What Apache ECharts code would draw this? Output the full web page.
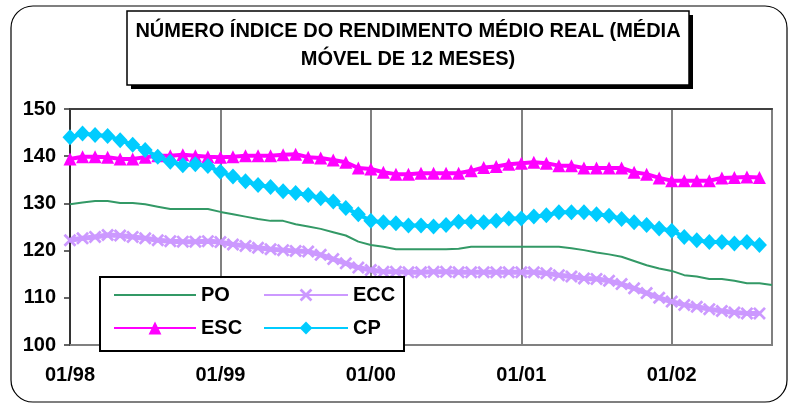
<!DOCTYPE html>
<html><head><meta charset="utf-8">
<script src="https://cdn.jsdelivr.net/npm/echarts@6/dist/echarts.min.js"></script>
<style>html,body{margin:0;padding:0;background:#fff}#c{width:793px;height:405px}</style>
</head><body><div id="c"></div>
<script>
const categories = ['01/98','02/98','03/98','04/98','05/98','06/98','07/98','08/98','09/98','10/98','11/98','12/98',
'01/99','02/99','03/99','04/99','05/99','06/99','07/99','08/99','09/99','10/99','11/99','12/99',
'01/00','02/00','03/00','04/00','05/00','06/00','07/00','08/00','09/00','10/00','11/00','12/00',
'01/01','02/01','03/01','04/01','05/01','06/01','07/01','08/01','09/01','10/01','11/01','12/01',
'01/02','02/02','03/02','04/02','05/02','06/02','07/02','08/02','09/02'];
const PO  = [129.8,130.2,130.5,130.5,130.1,130.1,129.8,129.3,128.8,128.8,128.8,128.8,128.2,127.7,127.2,126.7,126.3,126.3,125.6,
125.1,124.6,123.9,123.2,121.9,121.2,120.8,120.3,120.3,120.3,120.3,120.3,120.4,120.8,120.8,120.8,120.8,120.8,
120.8,120.8,120.8,120.5,120.1,119.6,119.2,118.7,117.8,116.9,116.2,115.7,114.8,114.5,114.0,114.0,113.6,113.1,113.1,112.7];
const ECC = [122.2,122.6,122.9,123.3,123.2,122.9,122.6,122.2,122.0,121.9,121.9,122.0,121.8,121.3,121.0,120.6,120.3,120.1,119.9,
119.8,119.1,118.2,117.3,116.4,115.9,115.5,115.5,115.4,115.4,115.5,115.5,115.4,115.4,115.4,115.4,115.4,115.4,
115.4,115.2,114.8,114.5,114.1,114.0,113.6,112.9,112.0,111.0,110.0,109.2,108.5,108.1,107.6,107.2,106.9,106.7,106.7];
const ESC = [139.4,139.9,139.9,139.8,139.4,139.4,139.8,140.1,140.1,140.3,140.1,139.9,139.8,139.9,140.1,140.1,140.1,140.3,140.4,
139.8,139.6,139.2,138.7,137.5,137.3,136.6,136.2,136.2,136.4,136.4,136.4,136.4,136.9,137.6,137.8,138.3,138.5,
138.7,138.5,138.0,138.0,137.5,137.5,137.5,137.5,136.6,136.2,135.4,134.8,134.8,134.8,134.8,135.4,135.5,135.6,135.5];
const CP  = [144.0,144.8,144.5,144.3,143.4,142.4,141.3,139.9,138.8,138.1,138.3,137.9,136.7,135.7,134.7,133.9,133.5,132.6,132.2,
131.8,131.1,130.4,129.0,127.7,126.3,126.0,125.8,125.3,125.3,125.1,125.4,126.1,126.1,126.0,126.3,126.8,126.8,
127.2,127.5,128.1,128.1,128.1,127.7,127.4,126.7,126.0,125.4,124.7,124.2,122.9,122.2,121.8,121.8,121.5,121.8,121.2];
const yTicks = {min:100, max:150, step:10};
const titleText = 'NÚMERO ÍNDICE DO RENDIMENTO MÉDIO REAL (MÉDIA\nMÓVEL DE 12 MESES)';

const FONT = "'Liberation Sans', Arial, sans-serif";
const xSym = 'path://M0,1.5L1.5,0L5,3.5L8.5,0L10,1.5L6.5,5L10,8.5L8.5,10L5,6.5L1.5,10L0,8.5L3.5,5Z';
const yearTick = (i) => i % 12 === 0;
const legendText = {fontFamily:FONT, fontWeight:'bold', fontSize:20, color:'#000'};

const chart = echarts.init(document.getElementById('c'), null, {renderer:'canvas'});
chart.setOption({
  animation:false,
  backgroundColor:'#fff',
  title:{
    text:titleText, left:408, top:17, textAlign:'center', z:8, padding:0,
    textStyle:{fontFamily:FONT, fontWeight:'bold', fontSize:20, lineHeight:28, color:'#000'}
  },
  graphic:[
    {type:'rect', z:1, silent:true, shape:{x:11, y:6, width:776, height:396, r:22}, style:{fill:'none', stroke:'#000', lineWidth:1.2}},
    {type:'rect', z:5, silent:true, shape:{x:131, y:15, width:562, height:74}, style:{fill:'#000'}},
    {type:'rect', z:6, silent:true, shape:{x:127, y:11, width:562, height:74}, style:{fill:'#fff', stroke:'#000', lineWidth:1.5}},
    {type:'rect', z:6, silent:true, shape:{x:100, y:277, width:304, height:74}, style:{fill:'#fff', stroke:'#000', lineWidth:2}}
  ],
  legend:[
    {data:[{name:'PO', itemStyle:{color:'rgba(0,0,0,0)', borderWidth:0}}, 'ESC'], orient:'vertical', left:113, top:285, padding:0,
     itemWidth:82, itemHeight:16, itemGap:13, z:10, textStyle:legendText},
    {data:['ECC','CP'], orient:'vertical', left:263, top:285, padding:0,
     itemWidth:84, itemHeight:16, itemGap:13, z:10, textStyle:legendText}
  ],
  grid:{left:70, right:21, top:109, bottom:60, containLabel:false, show:true, borderColor:'#808080', borderWidth:2},
  xAxis:[
    {type:'category', data:categories, boundaryGap:false,
     axisLine:{lineStyle:{color:'#808080', width:2}},
     axisTick:{show:false},
     axisLabel:{interval:(i)=>yearTick(i), margin:20, fontFamily:FONT, fontWeight:'bold', fontSize:20, color:'#000'},
     splitLine:{show:true, interval:(i)=>yearTick(i), lineStyle:{color:'#808080', width:2}}},
    {type:'category', data:categories, boundaryGap:false, position:'top',
     axisLine:{lineStyle:{color:'#404040', width:2}}, axisTick:{show:false}, axisLabel:{show:false}, splitLine:{show:false}}
  ],
  yAxis:{type:'value', min:yTicks.min, max:yTicks.max, interval:yTicks.step,
     axisLine:{show:true, lineStyle:{color:'#333', width:2}},
     axisTick:{show:true, length:6, lineStyle:{color:'#333', width:1.5}},
     axisLabel:{margin:14, fontFamily:FONT, fontWeight:'bold', fontSize:20, color:'#000'},
     splitLine:{show:false}},
  series:[
    {name:'PO', type:'line', data:PO, symbol:'none', showSymbol:false, lineStyle:{color:'#339966', width:2}, itemStyle:{color:'#339966'}, z:2},
    {name:'ECC', type:'line', data:ECC, symbol:xSym, symbolSize:13, showAllSymbol:true, lineStyle:{color:'#CC99FF', width:5}, itemStyle:{color:'#CC99FF'}, z:3},
    {name:'ESC', type:'line', data:ESC, symbol:'triangle', symbolSize:[13,13], showAllSymbol:true, lineStyle:{color:'#FF00FF', width:4}, itemStyle:{color:'#FF00FF'}, z:4},
    {name:'CP', type:'line', data:CP, symbol:'diamond', symbolSize:[15,16], showAllSymbol:true, lineStyle:{color:'#00CCFF', width:4}, itemStyle:{color:'#00CCFF'}, z:5}
  ]
});
</script></body></html>
